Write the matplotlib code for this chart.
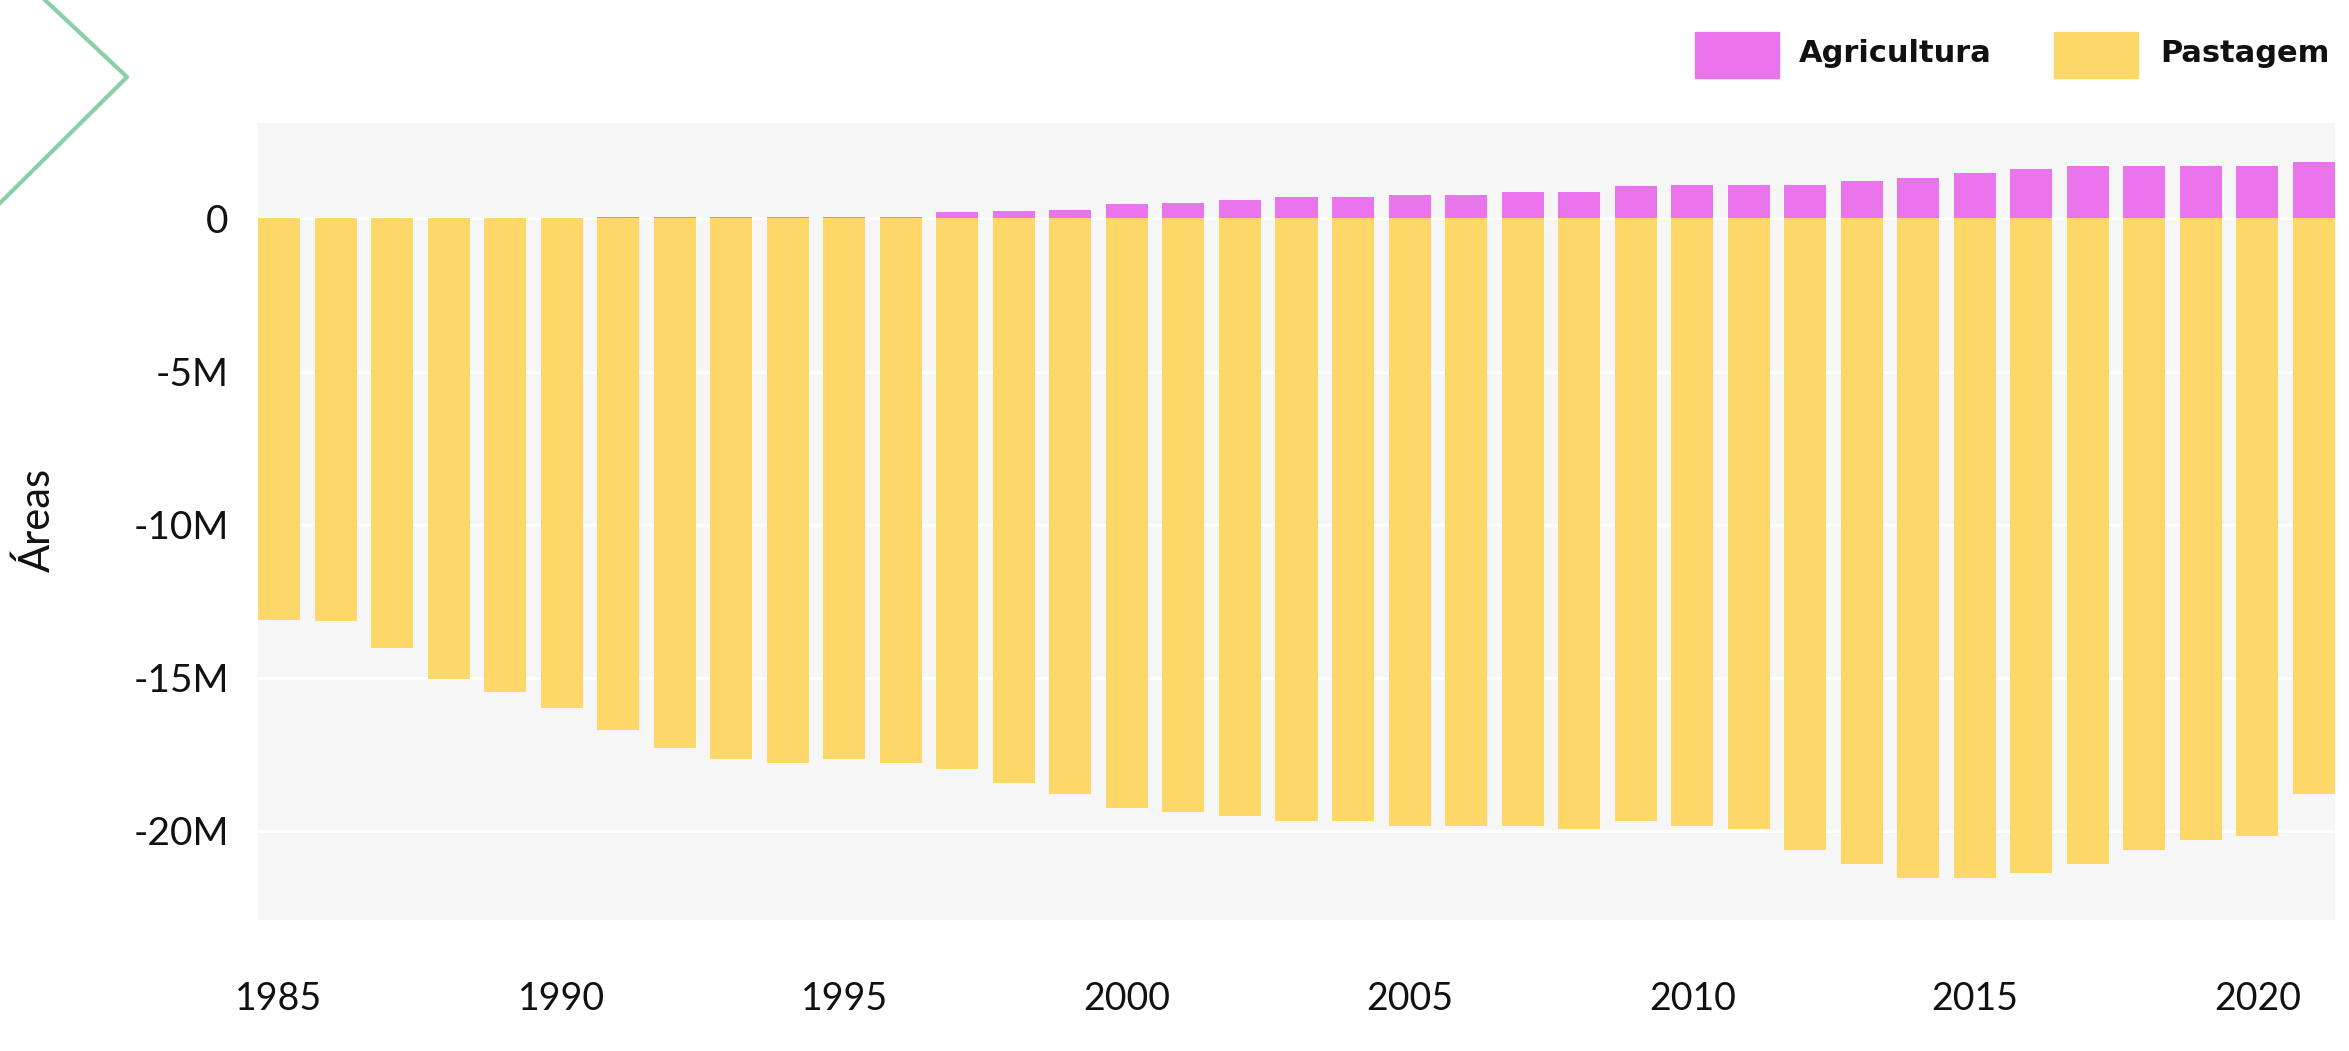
import matplotlib.pyplot as plt
from matplotlib.ticker import FuncFormatter, FixedLocator
from matplotlib.lines import Line2D
from matplotlib.patches import Rectangle

# dados (milhoes de hectares)
anos = list(range(1985, 2022))
agricultura = [0, 0, 0, 0, 0, 0,
               0.06, 0.06, 0.06, 0.06, 0.06, 0.06,
               0.20, 0.23, 0.29, 0.46, 0.52, 0.59, 0.69, 0.69, 0.78, 0.78,
               0.85, 0.85, 1.05, 1.11, 1.11, 1.11, 1.21, 1.31, 1.50, 1.63,
               1.73, 1.73, 1.73, 1.73, 1.83]
pastagem = [-13.12, -13.15, -14.04, -15.05, -15.47, -16.00, -16.72, -17.30,
            -17.66, -17.79, -17.66, -17.79, -17.99, -18.45, -18.81, -19.26,
            -19.39, -19.52, -19.68, -19.68, -19.84, -19.84, -19.84, -19.95,
            -19.68, -19.84, -19.95, -20.64, -21.10, -21.56, -21.56, -21.39,
            -21.10, -20.64, -20.31, -20.18, -18.81]
anos_ticks = [1985, 1990, 1995, 2000, 2005, 2010, 2015, 2020]
y_ticks = [0, -5e6, -10e6, -15e6, -20e6]

cor_agri = '#EA74EB'
cor_past = '#FDD868'

plt.rcParams['font.family'] = ['Lato', 'DejaVu Sans']

W, H = 2349, 1051
fig = plt.figure(figsize=(W / 100, H / 100), dpi=100)
ax = fig.add_axes([258 / W, 1 - 920 / H, (2335 - 258) / W, (920 - 123) / H])
ax.set_facecolor('#F6F6F6')

larg = 0.743
ax.bar(anos, [v * 1e6 for v in pastagem], width=larg, color=cor_past, zorder=2)
ax.bar(anos, [v * 1e6 for v in agricultura], width=larg, color=cor_agri, zorder=2)

ax.set_xlim(anos[0] - larg / 2, anos[-1] + larg / 2)
ax.set_ylim(-22.92e6, 3.12e6)

ax.yaxis.set_major_locator(FixedLocator(y_ticks))
ax.yaxis.set_major_formatter(FuncFormatter(lambda v, p: '0' if v == 0 else f'{v / 1e6:.0f}M'))
ax.set_xticks(anos_ticks)
ax.grid(axis='y', color='white', linewidth=2.2, zorder=1)
ax.set_axisbelow(True)

for s in ax.spines.values():
    s.set_visible(False)
ax.tick_params(axis='both', length=0, labelcolor='#111111')
ax.tick_params(axis='y', pad=21, labelsize=28)
ax.tick_params(axis='x', pad=44, labelsize=27)

fig.text(37 / W, 1 - 520 / H, 'Áreas', rotation=90, ha='center', va='center',
         fontsize=30, color='#111111')

# legenda
def caixa(x0, x1, cor):
    fig.patches.append(Rectangle((x0 / W, 1 - 78 / H), (x1 - x0) / W, 46 / H,
                                 transform=fig.transFigure, color=cor))

caixa(1695, 1779, cor_agri)
fig.text(1799 / W, 1 - 53 / H, 'Agricultura', ha='left', va='center',
         fontsize=22, fontweight='bold', color='#111111', family='DejaVu Sans')
caixa(2054, 2138, cor_past)
fig.text(2160 / W, 1 - 53 / H, 'Pastagem', ha='left', va='center',
         fontsize=22, fontweight='bold', color='#111111', family='DejaVu Sans')

# detalhe verde no canto
xs = [45 - 82 * 0.2, 127, 0 - 5]
ys = [0 - 77 * 0.2, 77, 203 + 5]
fig.add_artist(Line2D([x / W for x in xs], [1 - y / H for y in ys],
                      transform=fig.transFigure, color='#8ACFA6', linewidth=3))

fig.savefig('out.png', dpi=100)
